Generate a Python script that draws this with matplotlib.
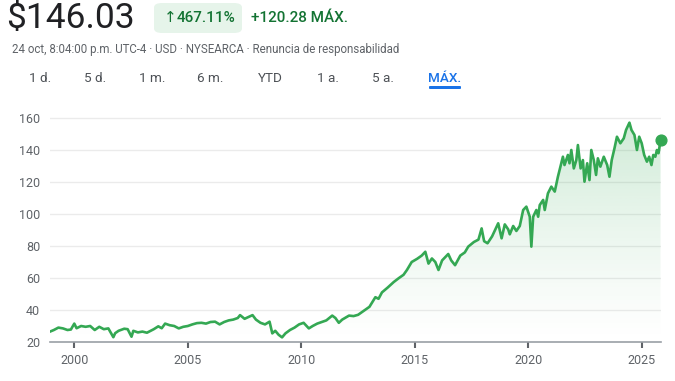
import matplotlib
matplotlib.use("Agg")
import matplotlib.pyplot as plt
from matplotlib.patches import FancyBboxPatch
import numpy as np

# price history (decimal year, price in USD)
years = [1998.93, 1999.1, 1999.3, 1999.5, 1999.7, 1999.85, 2000.0, 2000.1, 2000.3, 2000.5,
         2000.7, 2000.9, 2001.1, 2001.3, 2001.5, 2001.72, 2001.8, 2001.95, 2002.2, 2002.35,
         2002.52, 2002.6, 2002.8, 2003.0, 2003.2, 2003.5, 2003.7, 2003.85, 2004.0, 2004.2,
         2004.4, 2004.6, 2004.8, 2005.0, 2005.2, 2005.4, 2005.6, 2005.8, 2006.0, 2006.2,
         2006.4, 2006.6, 2006.8, 2007.0, 2007.2, 2007.3, 2007.5, 2007.65, 2007.85, 2008.0,
         2008.2, 2008.4, 2008.6, 2008.72, 2008.85, 2009.0, 2009.15, 2009.3, 2009.5, 2009.7,
         2009.9, 2010.1, 2010.33, 2010.5, 2010.7, 2010.9, 2011.1, 2011.36, 2011.5, 2011.65,
         2011.8, 2012.1, 2012.3, 2012.5, 2012.8, 2013.0, 2013.26, 2013.4, 2013.55, 2013.8,
         2014.07, 2014.3, 2014.5, 2014.65, 2014.86, 2015.1, 2015.3, 2015.46, 2015.6, 2015.75,
         2015.9, 2016.04, 2016.2, 2016.47, 2016.6, 2016.77, 2017.0, 2017.2, 2017.35, 2017.6,
         2017.8, 2017.94, 2018.05, 2018.2, 2018.4,
         2018.67, 2018.82, 2018.96, 2019.11, 2019.18, 2019.33, 2019.47, 2019.62, 2019.77, 2019.91,
         2020.06, 2020.13, 2020.21, 2020.35, 2020.43, 2020.50, 2020.65, 2020.72, 2020.86, 2021.01,
         2021.16, 2021.30, 2021.45, 2021.52, 2021.59, 2021.74, 2021.81, 2021.89, 2022.00, 2022.11,
         2022.18, 2022.30, 2022.40, 2022.47, 2022.59, 2022.69, 2022.77, 2022.88, 2022.98, 2023.06,
         2023.17, 2023.32, 2023.47, 2023.57, 2023.67, 2023.79, 2023.90, 2024.05, 2024.20, 2024.30,
         2024.45, 2024.54, 2024.67, 2024.78, 2024.88, 2024.99, 2025.10, 2025.22, 2025.32, 2025.42,
         2025.50, 2025.59, 2025.66, 2025.73, 2025.82]
prices = [26.5, 27.5, 29, 28.5, 27.5, 27.8, 31.5, 28.6, 30, 29.5,
          30, 27.5, 29.5, 28, 28.5, 23, 25.5, 27, 28.3, 28,
          23.3, 27, 26, 26.5, 25.8, 28, 29.8, 28.6, 31.5, 30.5,
          30, 28.5, 29.5, 30, 31, 31.8, 32, 31.5, 32.5, 32.7,
          31, 32.5, 33.5, 34, 35, 36.8, 34.5, 35.5, 36.8, 34,
          32, 31, 32.7, 25.4, 27, 24.5, 22.9, 25.4, 27.5, 29,
          31, 32, 28.5, 30, 31.5, 32.5, 33.5, 36.5, 35, 32,
          34, 36.5, 36.2, 37, 40, 42, 48, 47, 51, 54,
          57.5, 60, 62, 65, 70, 72, 74, 76.4, 69, 72.2,
          70, 65, 71, 75, 71, 68, 74, 76, 79.6, 82.5,
          84, 91, 83, 81.7, 86,
          94.2, 84.8, 93.5, 90.4, 87.3, 92.5, 89.4, 92.5, 102.5, 104.6,
          98.3, 79.6, 98.3, 102.5, 98.3, 105.6, 108.8, 102.5, 112.9, 117.1,
          114, 123.3, 131.7, 135.8, 130.6, 136.9, 131.7, 140, 128.5, 133.7,
          143.1, 128.5, 133.7, 120.2, 131.7, 121.2, 140, 133.7, 124.4, 134.8,
          129.6, 135.8, 130.6, 123.3, 133.7, 141, 148.3, 144.2, 147.3, 152.5,
          157.1, 152.5, 149.4, 140, 148.3, 144.2, 136.9, 132.7, 135.8, 130.6,
          136.9, 135.8, 140, 138, 146.03]

y_ticks = [20, 40, 60, 80, 100, 120, 140, 160]
x_ticks = [2000, 2005, 2010, 2015, 2020, 2025]
tabs = ["1 d.", "5 d.", "1 m.", "6 m.", "YTD", "1 a.", "5 a.", "MÁX."]
tab_x = [40, 95, 152, 210, 270, 328, 383, 445]

W, H = 675, 381
green = "#34a853"
dark_green = "#137333"
grey = "#5f6368"

plt.rcParams['font.family'] = ['Roboto', 'DejaVu Sans']
fig = plt.figure(figsize=(W / 100, H / 100), dpi=100)
fig.patch.set_facecolor("white")

def px(x, y):
    return x / W, 1 - y / H

# header
fig.text(*px(6, 28), "$146.03", fontsize=25.5, color="#202124", va="baseline")
badge = FancyBboxPatch(px(154, 33), 88 / W, 30 / H, boxstyle="round,pad=0,rounding_size=0.012",
                       transform=fig.transFigure, facecolor="#e6f4ea", edgecolor="none")
fig.patches.append(badge)
fig.text(*px(164, 18), "↑", fontsize=11, color=dark_green, va="center",
         family=["DejaVu Sans"])
fig.text(*px(177, 18), "467.11%", fontsize=11, color=dark_green, va="center", fontweight="medium")
fig.text(*px(251, 18), "+120.28 MÁX.", fontsize=11, color=dark_green, va="center", fontweight="medium")
fig.text(*px(12, 49), "24 oct, 8:04:00 p.m. UTC-4 · USD · NYSEARCA · Renuncia de responsabilidad",
         fontsize=8.3, color=grey, va="center")
for t, x in zip(tabs, tab_x):
    fig.text(*px(x, 78), t, fontsize=9.7, color="#1a73e8" if t == "MÁX." else "#4d5156",
             ha="center", va="center", fontweight="medium" if t == "MÁX." else "normal")
fig.patches.append(FancyBboxPatch(px(429, 89), 32 / W, 3 / H, boxstyle="round,pad=0,rounding_size=0.002",
                                  transform=fig.transFigure, facecolor="#1a73e8", edgecolor="none"))

# chart
ax = fig.add_axes([50 / W, (H - 342) / H, 611 / W, 232 / H])
ax.set_xlim(1998.93, 2025.84)
ax.set_ylim(20, 165)

# gradient fill under the line
grad = np.zeros((256, 1, 4))
grad[:, 0, 0:3] = matplotlib.colors.to_rgb(green)
grad[:, 0, 3] = np.linspace(0.3, 0.0, 256) ** 1.2
img = ax.imshow(grad, extent=[1998.93, 2025.84, 20, 160], aspect="auto", origin="upper", zorder=1)
poly = ax.fill_between(years, prices, 20, facecolor="none", edgecolor="none")
clip = poly.get_paths()[0]
img.set_clip_path(clip, transform=ax.transData)

ax.plot(years, prices, color=green, lw=1.9, zorder=3, solid_joinstyle="round")
ax.scatter([years[-1]], [prices[-1]], s=60, color=green, zorder=4, clip_on=False)

ax.set_yticks(y_ticks)
ax.set_xticks(x_ticks)
ax.grid(axis="y", color="#ebebeb", lw=1)
ax.set_axisbelow(True)
for s in ["top", "right", "left"]:
    ax.spines[s].set_visible(False)
ax.spines["bottom"].set_color("#9aa0a6")
ax.spines["bottom"].set_linewidth(1.2)
ax.tick_params(axis="y", length=0, pad=7, labelsize=9, labelcolor=grey)
ax.tick_params(axis="x", length=4, width=1.5, color="#5f6368", pad=5, labelsize=9, labelcolor=grey)
ax.set_facecolor("white")

fig.savefig("out.png", dpi=100)
